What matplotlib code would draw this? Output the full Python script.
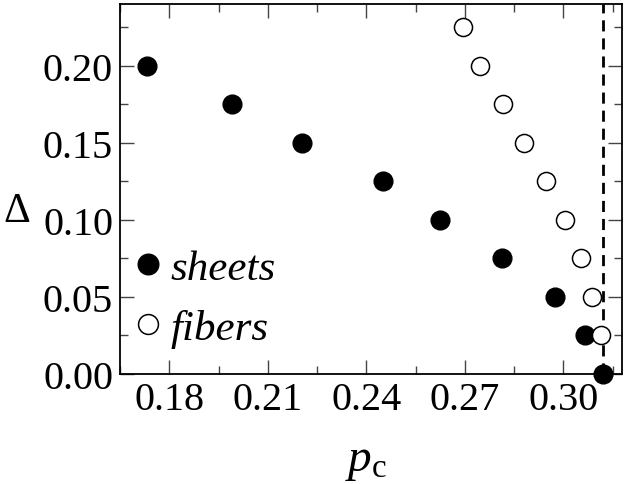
import matplotlib
matplotlib.use("Agg")
import matplotlib.pyplot as plt
from matplotlib.ticker import MultipleLocator

# data
sheets_p = [0.1731, 0.1990, 0.2203, 0.2450, 0.2625, 0.2813, 0.2975, 0.3065, 0.3120]
sheets_d = [0.200, 0.175, 0.150, 0.125, 0.100, 0.075, 0.050, 0.025, 0.000]
fibers_p = [0.2693, 0.2745, 0.2815, 0.2879, 0.2948, 0.3005, 0.3053, 0.3087, 0.3114]
fibers_d = [0.225, 0.200, 0.175, 0.150, 0.125, 0.100, 0.075, 0.050, 0.025]
p_limit = 0.3120

plt.rcParams['font.family'] = 'Liberation Serif'
plt.rcParams['mathtext.fontset'] = 'custom'
plt.rcParams['mathtext.rm'] = 'Liberation Serif'
plt.rcParams['mathtext.it'] = 'Liberation Serif:italic'

fig = plt.figure(figsize=(6.25, 4.85), dpi=100)
ax = fig.add_axes([0.192, 0.227, 0.803, 0.763])

ax.axvline(p_limit, color='black', linestyle=(0, (4, 2.5)), linewidth=2, zorder=1)
ax.plot(sheets_p, sheets_d, 'o', color='black', markersize=13.5, label='sheets',
        clip_on=False, zorder=3)
ax.plot(fibers_p, fibers_d, 'o', markerfacecolor='white', markeredgecolor='black',
        markeredgewidth=1.1, markersize=13, label='fibers', clip_on=False, zorder=3)

ax.set_xlim(0.165, 0.3178)
ax.set_ylim(0.0, 0.240)
ax.xaxis.set_major_locator(MultipleLocator(0.03))
ax.xaxis.set_minor_locator(MultipleLocator(0.015))
ax.yaxis.set_major_locator(MultipleLocator(0.05))
ax.yaxis.set_minor_locator(MultipleLocator(0.025))
ax.xaxis.set_major_formatter(plt.FormatStrFormatter('%.2f'))
ax.yaxis.set_major_formatter(plt.FormatStrFormatter('%.2f'))

ax.tick_params(which='both', direction='in', top=True, right=True, labelsize=29,
               width=1, color='#444444')
ax.tick_params(which='major', length=10, pad=5)
ax.tick_params(which='minor', length=6)
for s in ax.spines.values():
    s.set_linewidth(1.3)

ax.set_xlabel(r'$p_{\mathrm{c}}$', fontsize=34, va='center')
ax.xaxis.set_label_coords(0.49, -0.235)
ax.set_ylabel(r'$\Delta$', fontsize=30, rotation=0, va='center', ha='center')
ax.yaxis.set_label_coords(-0.205, 0.44)

leg = ax.legend(loc='lower left', bbox_to_anchor=(0.01, 0.07), frameon=False,
                prop={'family': 'Liberation Serif', 'style': 'italic', 'size': 31},
                borderpad=0, borderaxespad=0,
                handletextpad=0.0, handlelength=1.05, labelspacing=0.48, markerscale=1.1)

plt.savefig("out.png", dpi=100)
